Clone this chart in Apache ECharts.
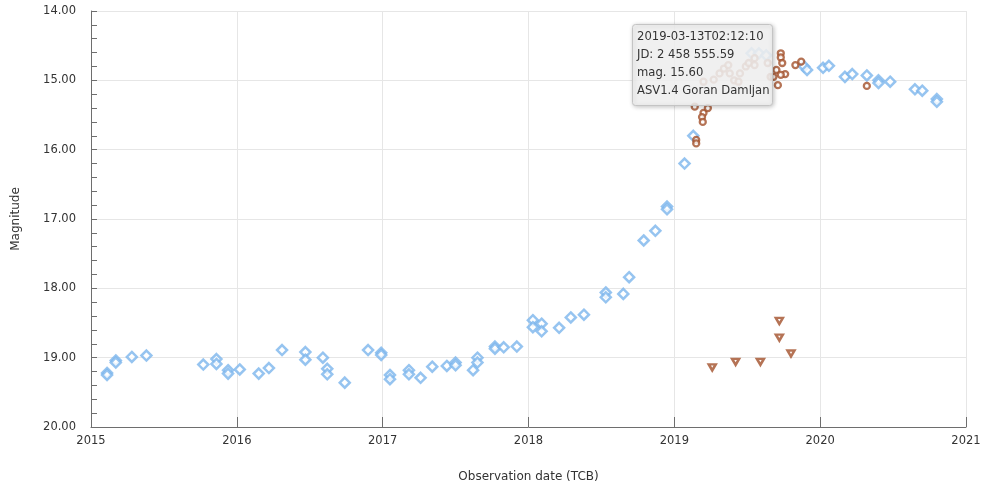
<!DOCTYPE html>
<html>
<head>
<meta charset="utf-8">
<script src="https://cdn.jsdelivr.net/npm/echarts@6/dist/echarts.min.js"></script>
<style>
html,body{margin:0;padding:0;background:#fff;}
#c{width:985px;height:489px;}
</style>
</head>
<body>
<div id="c"></div>
<script>
// ---- data (decimal year, magnitude) ----
const blueYears = [2015.11,2015.11,2015.17,2015.17,2015.28,2015.38,2015.77,2015.86,2015.86,2015.94,2015.94,2016.02,2016.15,2016.22,2016.31,2016.47,2016.47,2016.59,2016.62,2016.62,2016.74,2016.90,2016.99,2016.99,2017.05,2017.05,2017.18,2017.18,2017.26,2017.34,2017.44,2017.50,2017.50,2017.62,2017.65,2017.65,2017.77,2017.77,2017.83,2017.92,2018.03,2018.03,2018.09,2018.09,2018.21,2018.29,2018.38,2018.53,2018.53,2018.65,2018.69,2018.79,2018.87,2018.95,2018.95,2019.07,2019.13,2019.53,2019.58,2019.63,2019.89,2019.91,2020.02,2020.06,2020.17,2020.22,2020.32,2020.40,2020.40,2020.48,2020.65,2020.70,2020.80,2020.80];
const blueMags  = [19.22,19.25,19.04,19.07,18.99,18.97,19.10,19.02,19.09,19.18,19.23,19.17,19.23,19.15,18.89,18.92,19.03,19.00,19.16,19.24,19.36,18.89,18.93,18.96,19.25,19.31,19.18,19.24,19.29,19.13,19.12,19.07,19.11,19.18,19.00,19.07,18.84,18.87,18.85,18.84,18.46,18.56,18.51,18.62,18.57,18.42,18.38,18.06,18.13,18.08,17.84,17.31,17.17,16.82,16.86,16.20,15.80,14.61,14.61,14.64,14.80,14.85,14.82,14.79,14.95,14.91,14.93,15.00,15.04,15.02,15.13,15.15,15.27,15.31];

const redYears = [2019.15,2019.15,2019.14,2019.20,2019.23,2019.19,2019.195,2019.20,2019.27,2019.31,2019.34,2019.37,2019.38,2019.41,2019.44,2019.45,2019.49,2019.51,2019.55,2019.55,2019.64,2019.66,2019.73,2019.73,2019.74,2019.70,2019.76,2019.73,2019.68,2019.71,2019.83,2019.87,2020.32];
const redMags  = [15.86,15.91,15.38,15.47,15.40,15.53,15.60,15.02,14.99,14.90,14.83,14.78,14.90,15.00,15.02,14.90,14.80,14.75,14.68,14.78,14.75,14.95,14.61,14.67,14.75,14.85,14.91,14.92,14.95,15.07,14.78,14.73,15.08];

const limitYears = [2019.26,2019.42,2019.59,2019.72,2019.72,2019.80];
const limitMags  = [19.14,19.06,19.06,18.47,18.71,18.94];

const yearTicks = [2015,2016,2017,2018,2019,2020,2021];
const magTicks = [14,15,16,17,18,19,20];

const tooltipLines = ['2019-03-13T02:12:10','JD: 2 458 555.59','mag. 15.60','ASV1.4 Goran Damljan'];

const zip = (a,b) => a.map((v,i)=>[v,b[i]]);
const FONT = 'DejaVu Sans';
const BLUE = '#7cb5ec';
const RED = '#a3502b';

const chart = echarts.init(document.getElementById('c'), null, {renderer:'canvas'});
chart.setOption({
  animation:false,
  backgroundColor:'#fff',
  grid:{left:91,right:19,top:11,bottom:62,containLabel:false},
  xAxis:{
    type:'value', min:yearTicks[0], max:yearTicks[yearTicks.length-1], interval:1,
    name:'Observation date (TCB)', nameLocation:'middle', nameGap:44,
    nameTextStyle:{fontFamily:FONT,fontSize:12,color:'#333'},
    axisLine:{show:true,lineStyle:{color:'#6e6e6e',width:1}},
    axisTick:{show:true,inside:true,length:10,lineStyle:{color:'#6e6e6e'}},
    splitLine:{show:true,lineStyle:{color:'#e6e6e6'}},
    axisLabel:{fontFamily:FONT,fontSize:11.5,color:'#333',margin:8,formatter:v=>String(Math.round(v))}
  },
  yAxis:{
    type:'value', inverse:true, min:magTicks[0], max:magTicks[magTicks.length-1], interval:1,
    name:'Magnitude', nameLocation:'middle', nameGap:69, nameRotate:90,
    nameTextStyle:{fontFamily:FONT,fontSize:12,color:'#333'},
    axisLine:{show:true,lineStyle:{color:'#6e6e6e',width:1}},
    axisTick:{show:true,inside:true,length:6,lineStyle:{color:'#6e6e6e'}},
    minorTick:{show:true,splitNumber:5,length:6,lineStyle:{color:'#6e6e6e'}},
    splitLine:{show:true,lineStyle:{color:'#e6e6e6'}},
    axisLabel:{fontFamily:FONT,fontSize:11.5,color:'#333',margin:15,formatter:v=>v.toFixed(2)}
  },
  series:[
    {type:'scatter',name:'G',data:zip(blueYears,blueMags),symbol:'diamond',symbolSize:10,
     itemStyle:{color:'#fff',borderColor:BLUE,borderWidth:2.5},z:2},
    {type:'scatter',name:'obs',data:zip(redYears,redMags),symbol:'circle',symbolSize:6,
     itemStyle:{color:'#fff',borderColor:RED,borderWidth:2.3},z:3},
    {type:'scatter',name:'limit',data:zip(limitYears,limitMags),symbol:'triangle',symbolRotate:180,symbolSize:[7,6],
     itemStyle:{color:'#fff',borderColor:RED,borderWidth:2.5},z:3}
  ],
  graphic:[
    {type:'rect', left:632, top:24, z:100, zlevel:0,
     shape:{x:0,y:0,width:140,height:81,r:3},
     style:{fill:'rgba(247,247,247,0.85)',stroke:'#c4c4c4',lineWidth:1,
            shadowBlur:4,shadowOffsetX:1,shadowOffsetY:1,shadowColor:'rgba(0,0,0,0.25)'}},
    {type:'text', left:637, top:28, z:101, zlevel:0,
     style:{text:tooltipLines.join('\n'),fontFamily:FONT,fontSize:11.6,lineHeight:18,fill:'#333'}}
  ]
});
</script>
</body>
</html>
